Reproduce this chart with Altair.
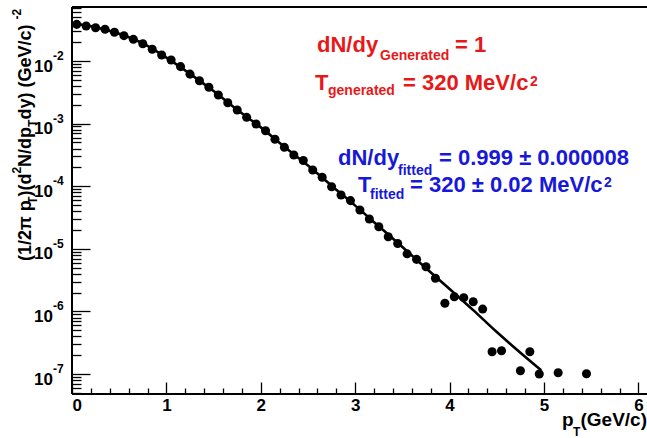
import altair as alt
import pandas as pd

# ---- data ----
pt_bins = [0.05, 0.15, 0.25, 0.35, 0.45, 0.55, 0.65, 0.75, 0.85, 0.95,
           1.05, 1.15, 1.25, 1.35, 1.45, 1.55, 1.65, 1.75, 1.85, 1.95,
           2.05, 2.15, 2.25, 2.35, 2.45, 2.55, 2.65, 2.75, 2.85, 2.95,
           3.05, 3.15, 3.25, 3.35, 3.45, 3.55, 3.65, 3.75, 3.85, 3.95,
           4.05, 4.15, 4.25, 4.35, 4.45, 4.55, 4.75, 4.85, 4.95, 5.15, 5.45]
pt_yield = [0.0385, 0.0362, 0.0340, 0.0321, 0.0288, 0.0254, 0.0222, 0.0189, 0.0154, 0.0125,
            0.0104, 0.00813, 0.00617, 0.00485, 0.00380, 0.00286, 0.00216, 0.00165, 0.00126, 9.86e-4,
            7.71e-4, 5.62e-4, 4.18e-4, 3.16e-4, 2.57e-4, 1.82e-4, 1.39e-4, 9.82e-5, 7.24e-5, 5.89e-5,
            4.17e-5, 2.99e-5, 2.25e-5, 1.56e-5, 1.22e-5, 8.32e-6, 6.79e-6, 5.18e-6, 3.38e-6, 1.35e-6,
            1.72e-6, 1.66e-6, 1.43e-6, 1.09e-6, 2.27e-7, 2.36e-7, 1.13e-7, 2.27e-7, 1.0e-7, 1.05e-7, 1.01e-7]

fit_pt = [0.0, 0.25, 0.5, 0.75, 1.0, 1.25, 1.5, 1.75, 2.0, 2.25, 2.5,
          2.75, 3.0, 3.25, 3.5, 3.75, 4.0, 4.25, 4.5, 4.75, 4.97]
fit_yield = [0.0398, 0.0347, 0.0272, 0.0191, 0.01135, 0.00624, 0.00331, 0.00166, 8.71e-4, 4.27e-4, 2.14e-4,
             1.02e-4, 4.90e-5, 2.29e-5, 1.07e-5, 4.90e-6, 2.29e-6, 1.05e-6, 4.68e-7, 2.19e-7, 1.15e-7]

x_major = [0, 1, 2, 3, 4, 5, 6]
x_minor = [round(0.2 * i, 1) for i in range(31) if i % 5 != 0]
decades = [1e-2, 1e-3, 1e-4, 1e-5, 1e-6, 1e-7]
decade_exp = ["-2", "-3", "-4", "-5", "-6", "-7"]

# ---- layout ----
W, H = 575, 387
X_DOM = [0, 6.091]
Y_DOM = [4.80e-8, 0.0729]
y_minor = [m * 10.0 ** k for k in range(-8, -1) for m in range(2, 10)
           if Y_DOM[0] <= m * 10.0 ** k <= Y_DOM[1]]

FONT = "Liberation Sans"
xs = alt.Scale(domain=X_DOM, nice=False, zero=False)
ys = alt.Scale(type="log", domain=Y_DOM, nice=False)

pts = pd.DataFrame({"pt": pt_bins, "v": pt_yield})
fit = pd.DataFrame({"pt": fit_pt, "v": fit_yield})
dec = pd.DataFrame({"v": decades, "e": decade_exp})

points = alt.Chart(pts).mark_circle(size=82, color="black", opacity=1).encode(
    x=alt.X("pt:Q", scale=xs, axis=alt.Axis(
        values=x_major, tickSize=12, offset=-12, domain=False, grid=False, title="",
        labelFont=FONT, labelFontWeight="bold", labelFontSize=17, labelColor="black",
        labelPadding=3, tickColor="black", tickWidth=1.3, orient="bottom")),
    y=alt.Y("v:Q", scale=ys, axis=alt.Axis(
        values=decades, tickSize=18, offset=-18, domain=False, grid=False, title="",
        labels=False, tickColor="black", tickWidth=1.3, orient="left")),
)

line = alt.Chart(fit).mark_line(color="black", strokeWidth=2.6, interpolate="monotone").encode(
    x=alt.X("pt:Q", scale=xs, axis=alt.Axis(
        values=x_minor, tickSize=6, offset=-6, domain=False, grid=False, title="",
        labels=False, tickColor="black", tickWidth=1.3, orient="bottom")),
    y=alt.Y("v:Q", scale=ys, axis=alt.Axis(
        values=y_minor, tickSize=9, offset=-9, domain=False, grid=False, title="",
        labels=False, tickColor="black", tickWidth=1.3, orient="left")),
)

ten = alt.Chart(dec).mark_text(font=FONT, fontWeight="bold", fontSize=17, align="right",
                               baseline="alphabetic", dy=10.5, color="black").encode(
    x=alt.value(-19), y=alt.Y("v:Q", scale=ys, axis=None), text=alt.value("10"))
expo = alt.Chart(dec).mark_text(font=FONT, fontWeight="bold", fontSize=12, align="left",
                                baseline="alphabetic", dy=-1, color="black").encode(
    x=alt.value(-19), y=alt.Y("v:Q", scale=ys, axis=None), text="e:N")

one = alt.Data(values=[{"a": 1}])


def rule(**enc):
    return alt.Chart(one).mark_rule(color="black", strokeWidth=2).encode(**enc)


frame = [
    rule(x=alt.value(0), y=alt.value(0), y2=alt.value(H)),
    rule(x=alt.value(0), x2=alt.value(W), y=alt.value(H)),
    rule(x=alt.value(0), x2=alt.value(W), y=alt.value(0)),
]


def txt(s, x, y, size, color="black", angle=0, align="left"):
    return alt.Chart(one).mark_text(
        text=s, font=FONT, fontWeight="bold", fontSize=size, color=color,
        angle=angle, align=align, baseline="alphabetic").encode(
        x=alt.value(x), y=alt.value(y))


RED = "#e81818"
BLUE = "#1818d8"
notes = [
    # red generated values
    txt("dN/dy", 245, 45, 22, RED),
    txt("Generated", 308, 53, 14, RED),
    txt("= 1", 383, 45, 22, RED),
    txt("T", 243, 83, 22, RED),
    txt("generated", 256, 88, 14, RED),
    txt("= 320 MeV/c", 331, 83, 22, RED),
    txt("2", 458, 79, 14, RED),
    # blue fitted values
    txt("dN/dy", 266, 158, 22, BLUE),
    txt("fitted", 326, 168, 14, BLUE),
    txt("= 0.999 \u00b1 0.000008", 367, 158, 22, BLUE),
    txt("T", 286, 185, 22, BLUE),
    txt("fitted", 298, 192, 14, BLUE),
    txt("= 320 \u00b1 0.02 MeV/c", 338, 185, 22, BLUE),
    txt("2", 532, 180, 14, BLUE),
    # x axis title
    txt("p", 490, 419, 19),
    txt("T", 501, 429, 12),
    txt("(GeV/c)", 575, 419, 19, align="right"),
]

# rotated y-axis title, built from pieces (reads bottom to top)
BX = -41.5
yt = [
    ("(1/2\u03c0 p", BX, 254, 18),
    ("T", BX + 6, 196.9, 12),
    (")(d", BX, 189.6, 18),
    ("2", BX - 10, 166.6, 12),
    ("N/dp", BX, 159.9, 18),
    ("T", BX + 6, 119.9, 12),
    (" dy) (GeV/c)", BX, 112.6, 18),
    ("-2", BX - 10, 12.6, 12),
]
ytitle = [txt(s, x, y, f, angle=270) for s, x, y, f in yt]

chart = alt.layer(points, line, ten, expo, *frame, *notes, *ytitle).resolve_axis(
    x="independent", y="independent"
).properties(
    width=W, height=H, autosize="none",
    padding={"left": 72, "top": 7, "right": 0, "bottom": 44},
    background="white",
).configure_view(strokeWidth=0)

chart.save("out.html", embed_options={"renderer": "svg", "actions": False})
